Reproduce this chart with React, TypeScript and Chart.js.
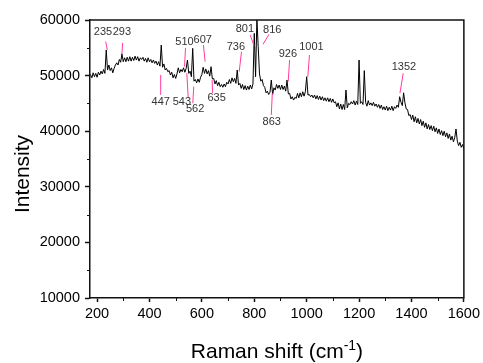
import React, { useEffect, useRef } from 'react';
import { Chart, registerables } from 'chart.js';

Chart.register(...registerables);

const wavenumbers = [
  175, 180, 185, 190, 195, 200, 205, 210, 215, 220,
  225, 230, 235, 240, 245, 250, 255, 260, 265, 270,
  275, 280, 285, 290, 295, 300, 305, 310, 315, 320,
  325, 330, 335, 340, 345, 350, 355, 360, 365, 370,
  375, 380, 385, 390, 395, 400, 405, 410, 415, 420,
  425, 430, 435, 440, 445, 450, 455, 460, 465, 470,
  475, 480, 485, 490, 495, 500, 505, 510, 515, 520,
  525, 530, 535, 540, 545, 550, 555, 560, 565, 570,
  575, 580, 585, 590, 595, 600, 605, 610, 615, 620,
  625, 630, 635, 640, 645, 650, 655, 660, 665, 670,
  675, 680, 685, 690, 695, 700, 705, 710, 715, 720,
  725, 730, 735, 740, 745, 750, 755, 760, 765, 770,
  775, 780, 785, 790, 795, 800, 805, 810, 815, 820,
  825, 830, 835, 840, 845, 850, 855, 860, 865, 870,
  875, 880, 885, 890, 895, 900, 905, 910, 915, 920,
  925, 930, 935, 940, 945, 950, 955, 960, 965, 970,
  975, 980, 985, 990, 995, 1000, 1005, 1010, 1015, 1020,
  1025, 1030, 1035, 1040, 1045, 1050, 1055, 1060, 1065, 1070,
  1075, 1080, 1085, 1090, 1095, 1100, 1105, 1110, 1115, 1120,
  1125, 1130, 1135, 1140, 1145, 1150, 1155, 1160, 1165, 1170,
  1175, 1180, 1185, 1190, 1195, 1200, 1205, 1210, 1215, 1220,
  1225, 1230, 1235, 1240, 1245, 1250, 1255, 1260, 1265, 1270,
  1275, 1280, 1285, 1290, 1295, 1300, 1305, 1310, 1315, 1320,
  1325, 1330, 1335, 1340, 1345, 1350, 1355, 1360, 1365, 1370,
  1375, 1380, 1385, 1390, 1395, 1400, 1405, 1410, 1415, 1420,
  1425, 1430, 1435, 1440, 1445, 1450, 1455, 1460, 1465, 1470,
  1475, 1480, 1485, 1490, 1495, 1500, 1505, 1510, 1515, 1520,
  1525, 1530, 1535, 1540, 1545, 1550, 1555, 1560, 1565, 1570,
  1575, 1580, 1585, 1590, 1595, 1600,
];

const intensity = [
  50200, 49600, 50500, 49800, 50400, 49700, 50600, 50100, 50800, 50300,
  51100, 50400, 54600, 51000, 51900, 50900, 51400, 50500, 51300, 51900,
  52300, 51900, 52900, 52400, 53900, 52500, 53200, 52500, 53300, 52600,
  53400, 52600, 53300, 52700, 53500, 52800, 53400, 52600, 53200, 52900,
  53300, 52600, 53100, 52400, 53200, 52500, 52900, 52300, 52800, 52200,
  52600, 51900, 52500, 51700, 55500, 51500, 52100, 51000, 51300, 50700,
  50900, 50100, 50600, 49600, 50200, 49500, 50300, 51400, 50500, 51100,
  50700, 51400, 50600, 51300, 52800, 50400, 50800, 49800, 54900, 49000,
  49300, 48700, 49400, 48800, 49700, 50200, 51500, 50400, 51200, 50300,
  50900, 49900, 51600, 49400, 49500, 48500, 49100, 48200, 48800, 48000,
  48400, 47900, 48500, 48000, 48800, 48500, 49300, 48600, 49600, 48900,
  49500, 48600, 51000, 48300, 48600, 47700, 48400, 47500, 48200, 47400,
  48100, 47500, 48300, 47600, 48500, 57600, 49800, 60300, 55200, 50300,
  49000, 49300, 48200, 47900, 46900, 47200, 46600, 47000, 49200, 46600,
  47800, 47400, 48400, 47700, 48300, 47500, 48300, 47500, 48100, 47200,
  49200, 46700, 46800, 45800, 46200, 45600, 46100, 45900, 46800, 46000,
  46900, 46200, 47100, 46300, 47100, 49800, 46500, 46600, 46200, 46500,
  46000, 46500, 45800, 46400, 45700, 46300, 45600, 46200, 45500, 46000,
  45400, 46000, 45300, 45900, 45200, 45800, 45100, 45300, 44400, 45100,
  44000, 44900, 43900, 44800, 43900, 47400, 44200, 45000, 44800, 45300,
  44900, 45500, 44700, 45400, 44800, 52800, 45000, 45300, 44800, 50900,
  45200, 44500, 45500, 44700, 45100, 44600, 45200, 44500, 44900, 44300,
  44800, 44100, 44700, 43900, 44400, 43800, 44500, 43700, 44300, 43800,
  44500, 43700, 44400, 44100, 44700, 44300, 46200, 45200, 44600, 46900,
  45100, 44000, 43900, 42800, 43000, 42100, 42900, 41700, 42600, 41500,
  42300, 41300, 42100, 41000, 41800, 40700, 41500, 40400, 41200, 40300,
  41000, 40100, 40900, 39900, 40600, 39600, 40400, 39400, 40100, 39200,
  40000, 39000, 39700, 38700, 39500, 38400, 39100, 38100, 38800, 40400,
  38200, 37400, 38000, 37100, 37600, 36800,
];

const xTicks = [200, 400, 600, 800, 1000, 1200, 1400, 1600];
const yTicks = [10000, 20000, 30000, 40000, 50000, 60000];
const xMinorTicks = [300, 500, 700, 900, 1100, 1300, 1500];
const yMinorTicks = [15000, 25000, 35000, 45000, 55000];

const peakLabels = ['235', '293', '447', '510', '543', '562', '607', '635', '736', '801', '816', '863', '926', '1001', '1352'];
const peakTextX = [222.8, 294.8, 442.8, 533.8, 523.6, 574.4, 603.3, 656.4, 730, 764.1, 868.8, 866.5, 928.4, 1018.3, 1371.1];
const peakTextY = [57840, 57840, 45320, 56100, 45210, 43950, 56400, 45930, 55090, 58380, 58200, 41720, 53840, 55090, 51610];
const leaderStartX = [233, 297.5, 442.8, 537.6, 542.6, 569, 605.9, 638.9, 751.2, 784.2, 856.3, 868.8, 934.8, 1010.7, 1368.5];
const leaderStartY = [56100, 55870, 50120, 54970, 50420, 48010, 55500, 49220, 54300, 57300, 57430, 46830, 52810, 53710, 50420];
const leaderEndX = [239, 294.8, 442.8, 533.8, 547.9, 565.3, 612.3, 641.2, 742.5, 799.4, 833.5, 865, 929.5, 1004.3, 1356];
const leaderEndY = [54610, 53840, 46520, 51610, 45930, 45030, 52510, 46830, 50710, 55380, 55630, 42930, 48910, 49810, 46830];

const FONT = '"Liberation Sans", Arial, sans-serif';

const decorPlugin = {
  id: 'decor',
  afterDatasetsDraw(chart: any) {
    const { ctx, chartArea: a } = chart;
    const xs = chart.scales.x;
    const ys = chart.scales.y;
    ctx.save();
    ctx.strokeStyle = '#111';
    ctx.lineWidth = 1.5;
    ctx.beginPath();
    ctx.moveTo(a.left - 0.75, a.top);
    ctx.lineTo(a.right, a.top);
    ctx.lineTo(a.right, a.bottom + 0.75);
    ctx.stroke();
    ctx.lineWidth = 1;
    ctx.beginPath();
    xMinorTicks.forEach((v) => {
      const px = Math.round(xs.getPixelForValue(v)) + 0.5;
      ctx.moveTo(px, a.bottom);
      ctx.lineTo(px, a.bottom + 3);
    });
    yMinorTicks.forEach((v) => {
      const py = Math.round(ys.getPixelForValue(v)) + 0.5;
      ctx.moveTo(a.left, py);
      ctx.lineTo(a.left - 3, py);
    });
    ctx.stroke();
    ctx.strokeStyle = '#ff3d9e';
    ctx.lineWidth = 1;
    ctx.beginPath();
    peakLabels.forEach((_, i) => {
      ctx.moveTo(xs.getPixelForValue(leaderStartX[i]), ys.getPixelForValue(leaderStartY[i]));
      ctx.lineTo(xs.getPixelForValue(leaderEndX[i]), ys.getPixelForValue(leaderEndY[i]));
    });
    ctx.stroke();
    ctx.fillStyle = '#333';
    ctx.font = '11px ' + FONT;
    ctx.textAlign = 'center';
    ctx.textBaseline = 'middle';
    peakLabels.forEach((t, i) => {
      ctx.fillText(t, xs.getPixelForValue(peakTextX[i]), ys.getPixelForValue(peakTextY[i]));
    });
    ctx.fillStyle = '#000';
    ctx.font = '21px ' + FONT;
    ctx.textBaseline = 'alphabetic';
    ctx.save();
    ctx.translate(28.5, (a.top + a.bottom) / 2 + 15);
    ctx.rotate(-Math.PI / 2);
    ctx.textAlign = 'center';
    ctx.fillText('Intensity', 0, 0);
    ctx.restore();
    const main = 'Raman shift (cm';
    const sup = '-1';
    const close = ')';
    ctx.font = '21px ' + FONT;
    const w1 = ctx.measureText(main).width;
    const w3 = ctx.measureText(close).width;
    ctx.font = '14px ' + FONT;
    const w2 = ctx.measureText(sup).width;
    const total = w1 + w2 + w3;
    const cx = (a.left + a.right) / 2;
    let sx = cx - total / 2;
    const base = 358;
    ctx.textAlign = 'left';
    ctx.font = '21px ' + FONT;
    ctx.fillText(main, sx, base);
    sx += w1;
    ctx.font = '14px ' + FONT;
    ctx.fillText(sup, sx, base - 8);
    sx += w2;
    ctx.font = '21px ' + FONT;
    ctx.fillText(close, sx, base);
    ctx.restore();
  },
};

export default function App() {
  const ref = useRef<HTMLCanvasElement | null>(null);
  useEffect(() => {
    if (!ref.current) return;
    const points = wavenumbers.map((w, i) => ({ x: w, y: intensity[i] }));
    const chart = new Chart(ref.current, {
      type: 'line',
      data: {
        datasets: [
          {
            data: points,
            borderColor: '#000',
            borderWidth: 1,
            pointRadius: 0,
            tension: 0,
            fill: false,
          },
        ],
      },
      options: {
        animation: false,
        responsive: false,
        events: [],
        layout: { padding: { top: 20, right: 17, left: 0, bottom: 0 } },
        plugins: { legend: { display: false }, tooltip: { enabled: false }, title: { display: false } },
        scales: {
          x: {
            type: 'linear',
            min: 173,
            max: 1600,
            afterBuildTicks: (s: any) => {
              s.ticks = xTicks.map((v) => ({ value: v }));
            },
            afterFit: (s: any) => {
              s.height = 65;
            },
            border: { display: true, color: '#111', width: 1.5 },
            grid: { drawOnChartArea: false, drawTicks: true, tickLength: 4, tickWidth: 1.5, tickColor: '#111' },
            ticks: {
              color: '#000',
              font: { family: FONT, size: 14.5 },
              padding: 3,
              maxRotation: 0,
              autoSkip: false,
              callback: (v: any) => String(v),
            },
          },
          y: {
            type: 'linear',
            min: 10000,
            max: 60000,
            afterBuildTicks: (s: any) => {
              s.ticks = yTicks.map((v) => ({ value: v }));
            },
            afterFit: (s: any) => {
              s.width = 90;
            },
            border: { display: true, color: '#111', width: 1.5 },
            grid: { drawOnChartArea: false, drawTicks: true, tickLength: 5, tickWidth: 1.5, tickColor: '#111' },
            ticks: {
              color: '#000',
              font: { family: FONT, size: 14.5 },
              padding: 5,
              autoSkip: false,
              callback: (v: any) => String(v),
            },
          },
        },
      },
      plugins: [decorPlugin],
    });
    return () => chart.destroy();
  }, []);
  return (
    <div style={{ position: 'fixed', left: 0, top: 0, width: 483, height: 363, background: '#fff' }}>
      <canvas ref={ref} width={483} height={363} style={{ display: 'block' }} />
    </div>
  );
}
